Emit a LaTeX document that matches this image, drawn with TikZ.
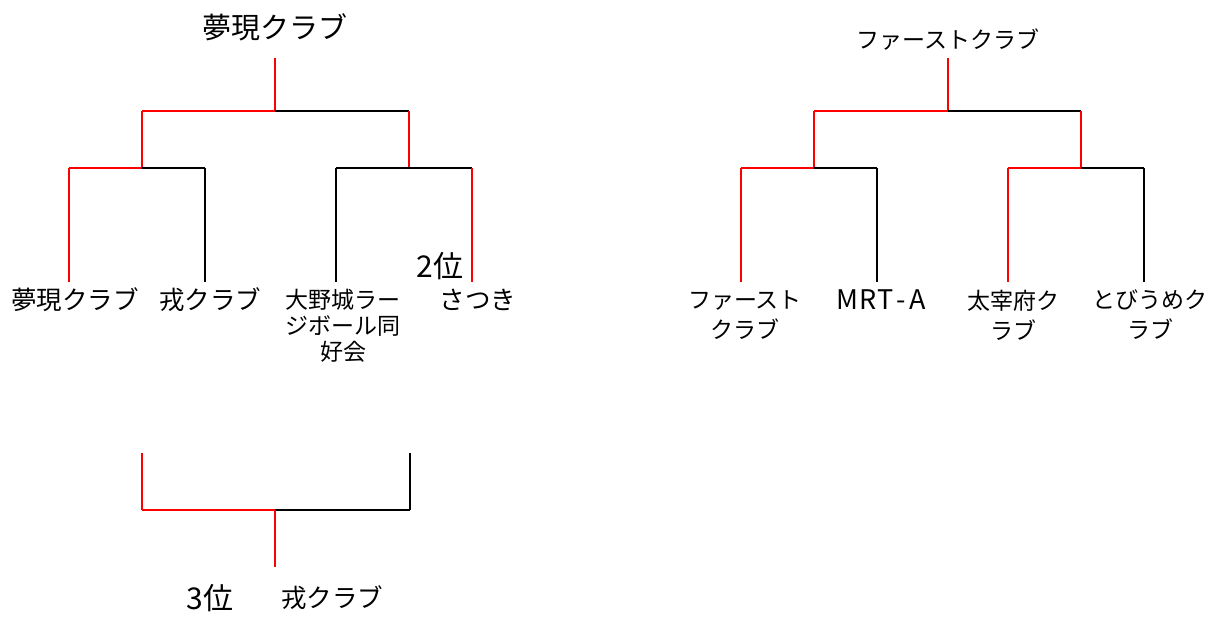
\documentclass[tikz,border=0pt]{standalone}
\usepackage{fontspec}
\setmainfont{Noto Sans CJK JP}

\tikzset{win/.style={draw=red, line width=2bp},
         lose/.style={draw=black, line width=2bp},
         team/.style={inner sep=0pt, align=center, font=\fontsize{23bp}{26bp}\selectfont},
         teambig/.style={team, font=\fontsize{25.5bp}{30bp}\selectfont},
         teamwide/.style={team, font=\fontsize{23bp}{30bp}\selectfont},
         rank/.style={inner sep=0pt, font=\fontsize{30bp}{34bp}\selectfont},
         champ/.style={inner sep=0pt, font=\fontsize{29bp}{33bp}\selectfont}}

\begin{document}
\begin{tikzpicture}[x=1bp, y=-1bp]
\useasboundingbox (0,0) rectangle (1223,630);
\begin{scope}[xshift=0cm]

  \draw  [win]  (275,58) -- (275,111);
  \draw  [win]  (142,111) -- (275,111);
  \draw  [lose] (275,111) -- (409,111);

  \draw  [win]  (142,111) -- (142,168);
  \draw  [win]  (409,111) -- (409,168);

  \draw  [win]  (69,168) -- (142,168);
  \draw  [lose] (142,168) -- (205,168);
  \draw  [lose] (336,168) -- (409,168);
  \draw  [lose] (409,168) -- (472,168);

  \draw  [win]  (69,168) -- (69,282);
  \draw  [lose] (205,168) -- (205,282);
  \draw  [lose] (336,168) -- (336,282);
  \draw  [win]  (472,168) -- (472,282);

  \draw  (275,27) node (champL) [champ] {夢現クラブ};

  \draw  (75,300) node (yumeA) [teambig] {夢現クラブ};
  \draw  (210,300) node (ebisuA) [teambig] {戎クラブ};
  \draw  (343,326) node (onojo) [team] {大野城ラー\\ジボール同\\好会};
  \draw  (478,300) node (satsuki) [teambig] {さつき};
  \draw  (440,266) node (second) [rank] {2位};
\end{scope}

\begin{scope}[xshift=0cm]

  \draw  [win]  (948,58) -- (948,111);
  \draw  [win]  (814,111) -- (948,111);
  \draw  [lose] (948,111) -- (1081,111);

  \draw  [win]  (814,111) -- (814,168);
  \draw  [win]  (1081,111) -- (1081,168);

  \draw  [win]  (741,168) -- (814,168);
  \draw  [lose] (814,168) -- (877,168);
  \draw  [win]  (1008,168) -- (1081,168);
  \draw  [lose] (1081,168) -- (1144,168);

  \draw  [win]  (741,168) -- (741,282);
  \draw  [lose] (877,168) -- (877,282);
  \draw  [win]  (1008,168) -- (1008,282);
  \draw  [lose] (1144,168) -- (1144,282);

  \draw  (948,40) node (champR) [team] {ファーストクラブ};

  \draw  (745,315) node (first) [teamwide] {ファースト\\クラブ};
  \draw  (881,300) node (mrt) [teambig, font=\fontsize{27bp}{30bp}\selectfont] {M\kern1bp R\kern1.5bp T\kern3bp -\kern3bp A};
  \draw  (1013,315) node (dazaifu) [teamwide] {太宰府ク\\ラブ};
  \draw  (1150,315) node (tobiume) [teamwide] {とびうめク\\ラブ};
\end{scope}

\begin{scope}[xshift=0cm]

  \draw  [win]  (142,453) -- (142,510);
  \draw  [lose] (410,453) -- (410,510);
  \draw  [win]  (142,510) -- (275,510);
  \draw  [lose] (275,510) -- (410,510);
  \draw  [win]  (275,510) -- (275,567);

  \draw  (210,598) node (third) [rank] {3位};
  \draw  (332,598) node (ebisuB) [teambig] {戎クラブ};
\end{scope}
\end{tikzpicture}
\end{document}
